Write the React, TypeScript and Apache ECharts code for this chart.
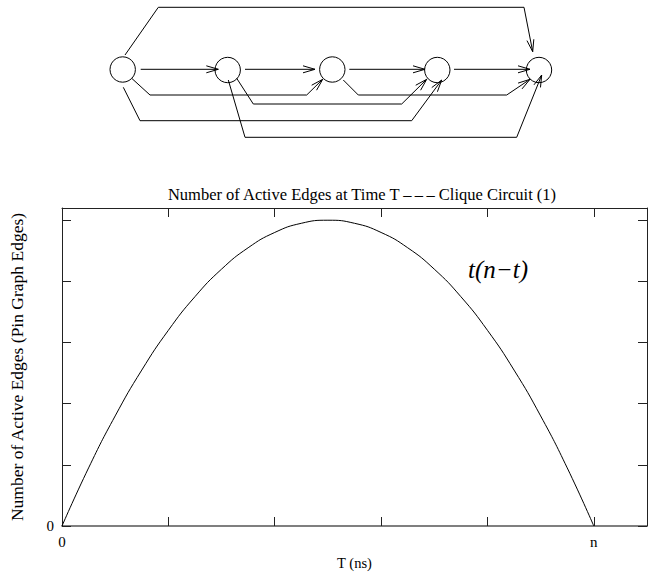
import React, { useEffect, useRef } from "react";
import * as echarts from "echarts";

// ---- data ----
const tValues = [0, 0.25, 0.5, 0.75, 1, 1.25, 1.5, 1.75, 2, 2.25, 2.5, 2.75, 3, 3.25, 3.5, 3.75, 4, 4.25, 4.5, 4.75, 5];
const activeEdges = [0, 0.95, 1.8, 2.55, 3.2, 3.75, 4.2, 4.55, 4.8, 4.95, 5.0, 4.95, 4.8, 4.55, 4.2, 3.75, 3.2, 2.55, 1.8, 0.95, 0];
const xTickLabels: Record<number, string> = { 0: "0", 5: "n" };
const yTickLabels: Record<number, string> = { 0: "0" };

// ---- diagram layout (decoration above the chart) ----
const nodeCenters = [
  [122.7, 69.5],
  [227.7, 70],
  [332.3, 69.5],
  [437.3, 70],
  [539, 70],
];
const edgePaths: number[][][] = [
  [[125, 55], [158.3, 7.3], [524, 7.3], [532.7, 51.7]],
  [[140.7, 69.3], [218.3, 69.3]],
  [[245, 69.3], [315, 69.3]],
  [[349.3, 69.3], [425, 69.3]],
  [[454, 69.3], [530, 69.3]],
  [[131.7, 78.3], [150, 95], [306.7, 95], [322.7, 79.3]],
  [[343.3, 80], [358.3, 95], [506.7, 95], [530, 79.3]],
  [[236.7, 78.3], [253.3, 104], [401.7, 104], [426.7, 79.3]],
  [[123.3, 87.3], [140, 120.7], [411.7, 120.7], [441.7, 80]],
  [[228.3, 80], [245, 137.3], [516.7, 137.3], [541.7, 75]],
];

const FONT = "'Liberation Serif', 'Times New Roman', serif";

function arrowHead(p: number[][]) {
  const a = p[p.length - 2];
  const b = p[p.length - 1];
  const dx = b[0] - a[0];
  const dy = b[1] - a[1];
  const len = Math.sqrt(dx * dx + dy * dy);
  const ux = dx / len;
  const uy = dy / len;
  const L = 12;
  const W = 3.5;
  const bx = b[0] - ux * L;
  const by = b[1] - uy * L;
  return [
    [bx - uy * W, by + ux * W],
    [b[0], b[1]],
    [bx + uy * W, by - ux * W],
  ];
}

export default function App() {
  const ref = useRef<HTMLDivElement>(null);
  useEffect(() => {
    if (!ref.current) return;
    const chart = echarts.init(ref.current, undefined, { renderer: "svg" });
    const lineStyle = { stroke: "#000", lineWidth: 1, fill: "none" };
    const graphics: any[] = [];
    nodeCenters.forEach((c) => {
      graphics.push({
        type: "circle",
        shape: { cx: c[0], cy: c[1], r: 12.7 },
        style: { fill: "#fff", stroke: "#000", lineWidth: 1 },
      });
    });
    edgePaths.forEach((p) => {
      graphics.push({ type: "polyline", shape: { points: p }, style: lineStyle });
      graphics.push({ type: "polyline", shape: { points: arrowHead(p) }, style: lineStyle });
    });
    graphics.push({
      type: "text",
      x: 498,
      y: 269,
      style: {
        text: "t(n\u2212t)",
        font: `italic 25px ${FONT}`,
        fill: "#000",
        textAlign: "center",
        textVerticalAlign: "middle",
      },
    });

    const axisLine = { show: true, onZero: false, lineStyle: { color: "#222", width: 1 } };
    const tick = { show: true, inside: true, length: 9, lineStyle: { color: "#222", width: 1 } };

    chart.setOption({
      animation: false,
      backgroundColor: "#fff",
      title: {
        text: "Number of Active Edges at Time T \u2013\u2009\u2013\u2009\u2013 Clique Circuit (1)",
        left: 357,
        top: 181,
        textAlign: "center",
        textStyle: { fontFamily: FONT, fontSize: 16.5, fontWeight: "normal", color: "#000" },
      },
      grid: { left: 59, top: 208, width: 592, height: 320 },
      xAxis: [
        {
          type: "value",
          position: "bottom",
          min: 0,
          max: 5.5,
          interval: 1,
          axisLine: { show: true, onZero: false, lineStyle: { color: "#555", width: 1.5 } },
          axisTick: tick,
          splitLine: { show: false },
          axisLabel: {
            margin: 8,
            fontFamily: FONT,
            fontSize: 15,
            color: "#000",
            formatter: (v: number) => xTickLabels[v] ?? "",
          },
          name: "T (ns)",
          nameLocation: "middle",
          nameGap: 29,
          nameTextStyle: { fontFamily: FONT, fontSize: 14.5, color: "#000" },
        },
        {
          type: "value",
          position: "top",
          min: 0,
          max: 5.5,
          interval: 1,
          axisLine,
          axisTick: tick,
          splitLine: { show: false },
          axisLabel: { show: false },
        },
      ],
      yAxis: [
        {
          type: "value",
          position: "left",
          min: 0,
          max: 5.2,
          interval: 1,
          axisLine,
          axisTick: tick,
          splitLine: { show: false },
          axisLabel: {
            margin: 8,
            fontFamily: FONT,
            fontSize: 15,
            color: "#000",
            formatter: (v: number) => yTickLabels[v] ?? "",
          },
          name: "Number of Active Edges (Pin Graph Edges)",
          nameLocation: "middle",
          nameGap: 36,
          nameTextStyle: { fontFamily: FONT, fontSize: 17.5, color: "#000" },
        },
        {
          type: "value",
          position: "right",
          min: 0,
          max: 5.2,
          interval: 1,
          axisLine,
          axisTick: tick,
          splitLine: { show: false },
          axisLabel: { show: false },
        },
      ],
      series: [
        {
          type: "line",
          data: tValues.map((t, i) => [t, activeEdges[i]]),
          smooth: true,
          showSymbol: false,
          lineStyle: { color: "#000", width: 1 },
        },
      ],
      graphic: graphics,
    });
    return () => chart.dispose();
  }, []);
  return (
    <div
      ref={ref}
      style={{ position: "absolute", left: 0, top: 0, width: 650, height: 575 }}
    />
  );
}
